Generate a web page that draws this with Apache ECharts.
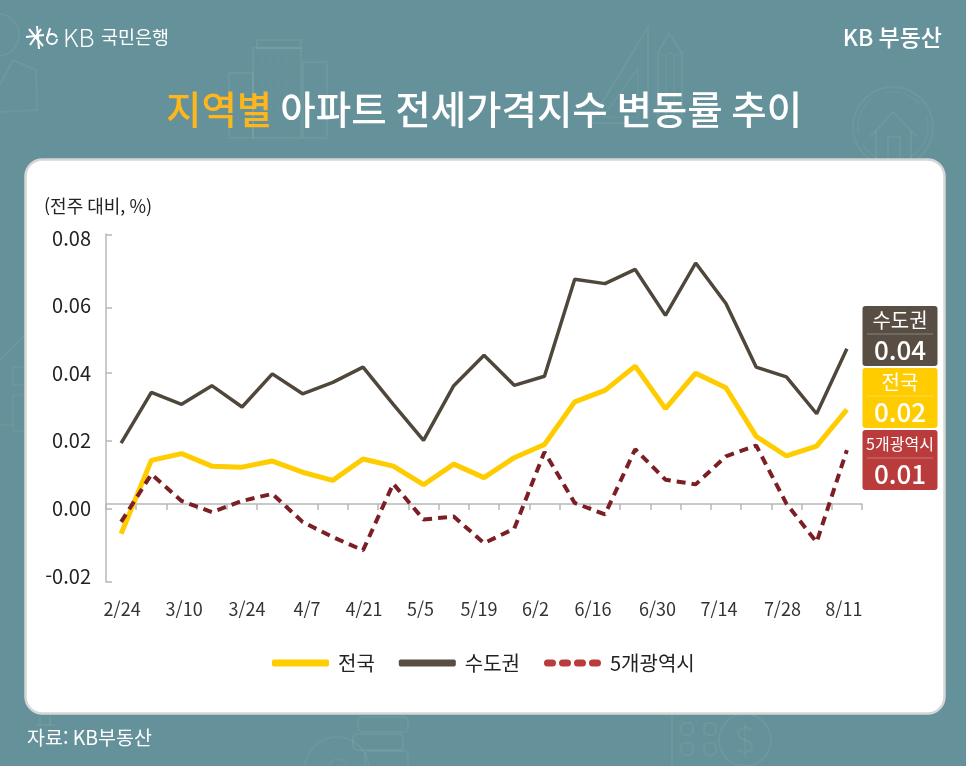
<!DOCTYPE html>
<html lang="ko">
<head>
<meta charset="utf-8">
<title>지역별 아파트 전세가격지수 변동률 추이</title>
<style>
  html, body { margin: 0; padding: 0; background: #64919a; }
  #chart { width: 966px; height: 766px; }
</style>
<script src="https://cdn.jsdelivr.net/npm/echarts@6/dist/echarts.min.js"></script>
</head>
<body>
<div id="chart"></div>
<script>
const FONT = '"Noto Sans CJK KR", "Noto Sans", sans-serif';

const weeks = ['2/24', '3/3', '3/10', '3/17', '3/24', '3/31', '4/7', '4/14', '4/21', '4/28', '5/5', '5/12', '5/19',
  '5/26', '6/2', '6/9', '6/16', '6/23', '6/30', '7/7', '7/14', '7/21', '7/28', '8/4', '8/11'];
const national = [-0.0075, 0.0142, 0.0162, 0.0125, 0.0122, 0.014, 0.0107, 0.0083, 0.0146, 0.0125, 0.007, 0.0131, 0.0091,
  0.015, 0.0189, 0.0315, 0.0349, 0.0421, 0.0295, 0.04, 0.0357, 0.0213, 0.0155, 0.0184, 0.0292];
const capital = [0.0193, 0.0343, 0.0308, 0.0363, 0.03, 0.0398, 0.0339, 0.0373, 0.0418, 0.0308, 0.0201, 0.0363, 0.0453,
  0.0364, 0.0391, 0.0678, 0.0665, 0.0707, 0.0571, 0.0726, 0.0606, 0.0418, 0.0389, 0.028, 0.0472];
const metro = [-0.004, 0.0101, 0.0022, -0.0011, 0.0022, 0.0043, -0.004, -0.0085, -0.0124, 0.0073, -0.0033, -0.0024, -0.0103,
  -0.006, 0.0167, 0.0016, -0.0018, 0.0175, 0.0085, 0.0071, 0.0154, 0.0186, 0.0014, -0.01, 0.0172];

const yLabels = [-0.02, 0, 0.02, 0.04, 0.06, 0.08];
const yTicks = [-0.0217, 0, 0.02, 0.04, 0.0595, 0.0811];

const endNames = ['수도권', '전국', '5개광역시'];
const endValues = ['0.04', '0.02', '0.01'];
const endColors = ['#594e43', '#ffcc00', '#b93b3b'];

// the date labels sit a little off their points in the original
const labelNudge = [1, 0, 2.5, 0, 5, 0, 4.5, 0, 1, 0, -3, 0, -5, 0, -9, 0, -12, 0, -8, 0, -7, 0, -4, 0, -3];

// four round dots, used as the legend mark of the dashed series
function dotsIcon() {
  let d = '';
  for (let i = 0; i < 4; i++) {
    const x = i * 15;
    d += `M${x + 3.5} 0H${x + 8.5}A3.5 3.5 0 0 1 ${x + 8.5} 7H${x + 3.5}A3.5 3.5 0 0 1 ${x + 3.5} 0Z`;
  }
  return 'path://' + d;
}

function weekLabelRich() {
  const rich = {};
  labelNudge.forEach((n, i) => {
    rich['w' + i] = {
      fontFamily: FONT, fontSize: 18, color: '#333',
      padding: n >= 0 ? [0, 0, 0, n * 2] : [0, -n * 2, 0, 0]
    };
  });
  return rich;
}

// faint icons behind the card
const FAINT = { fill: 'none', stroke: 'rgba(255,255,255,0.06)', lineWidth: 2 };
const FAINT_THIN = { fill: 'none', stroke: 'rgba(255,255,255,0.055)', lineWidth: 1.5 };

function rect(x, y, width, height, r, style) {
  return { type: 'rect', z: -10, shape: { x, y, width, height, r: r || 0 }, style: style || FAINT };
}
function poly(points, style) {
  return { type: 'polyline', z: -10, shape: { points }, style: style || FAINT };
}
function circle(cx, cy, r, style) {
  return { type: 'circle', z: -10, shape: { cx, cy, r }, style: style || FAINT };
}

function buildDecor() {
  const items = [
    // person, top left
    circle(-2, 35, 21),
    poly([[0, 85], [13, 60], [36, 70], [37, 110], [0, 112]]),
    // buildings
    rect(253, 48, 48, 90), rect(257, 40, 44, 8), rect(229, 73, 24, 65), rect(303, 62, 24, 76),
    // ruler and pencil
    poly([[590, 123], [648, 27], [648, 123], [590, 123]]),
    poly([[603, 117], [638, 68], [638, 117], [603, 117]], FAINT_THIN),
    poly([[658, 123], [658, 53], [669, 33], [682, 53], [682, 123]]),
    poly([[658, 53], [664, 56], [670, 53], [676, 56], [682, 53]], FAINT_THIN),
    poly([[666, 56], [666, 123]], FAINT_THIN), poly([[674, 56], [674, 123]], FAINT_THIN),
    // house in a circle
    circle(893, 127, 40),
    circle(893, 127, 35, { fill: 'none', stroke: 'rgba(255,255,255,0.05)', lineWidth: 1.5, lineDash: [40, 12] }),
    poly([[870, 137], [893, 112], [917, 137]]),
    poly([[876, 131], [876, 160]]), poly([[911, 131], [911, 160]]),
    rect(888, 137, 12, 24),
    // left edge house
    poly([[0, 360], [25, 335]]), rect(13, 367, 14, 18, 0, FAINT_THIN), rect(13, 395, 14, 36, 0, FAINT_THIN),
    poly([[0, 425], [13, 425]], FAINT_THIN),
    // bottom row: stand, coins, calculator and dollar
    poly([[35, 725], [55, 725]]), poly([[40, 725], [40, 716]]), poly([[50, 725], [50, 716]]),
    rect(358, 717, 50, 15, 4), rect(353, 734, 50, 16, 4), rect(365, 751, 43, 20, 4),
    circle(337, 769, 32), circle(338, 768, 9, FAINT_THIN),
    poly([[672, 712], [672, 766]]),
    rect(681, 723, 12, 12, 4), rect(704, 723, 12, 12, 4), rect(681, 743, 12, 12, 4), rect(704, 743, 12, 12, 4),
    circle(745, 740, 26),
    poly([[752, 730], [745, 727], [738, 731], [739, 737], [751, 743], [752, 749], [745, 753], [738, 750]]),
    poly([[745, 722], [745, 758]], FAINT_THIN)
  ];
  for (let x = 262; x <= 292; x += 8) {
    items.push(poly([[x, 58], [x, 130]], { fill: 'none', stroke: 'rgba(255,255,255,0.05)', lineWidth: 1.5, lineDash: [5, 7] }));
  }
  return items;
}

// KB star mark next to the bank name
function buildLogo() {
  const s = { fill: 'none', stroke: '#fff', lineWidth: 2 };
  const e = (pts) => ({ type: 'polyline', z: 6, shape: { points: pts }, style: s });
  return [
    e([[26, 37], [44, 35]]), e([[29, 29], [43, 46]]), e([[30, 45], [41, 29]]), e([[37, 26], [39, 49]]),
    { type: 'arc', z: 6, shape: { cx: 52, cy: 39, r: 5, startAngle: 0, endAngle: Math.PI * 1.9 }, style: s },
    e([[47, 39], [50, 28]])
  ];
}

// value boxes at the right end of the lines
function buildEndBoxes() {
  const items = [];
  endNames.forEach((name, i) => {
    const top = 306 + i * 62;
    items.push({ type: 'rect', z: 10, shape: { x: 862.5, y: top, width: 75, height: 60, r: 3 }, style: { fill: endColors[i] } });
    items.push({ type: 'line', z: 11, shape: { x1: 867, y1: top + 28, x2: 933, y2: top + 28 }, style: { stroke: 'rgba(255,255,255,0.3)', lineWidth: 1 } });
    items.push({
      type: 'text', z: 11, x: 900, y: top + 14,
      style: { text: name, fill: '#fff', font: `400 ${name.length > 3 ? 16 : 20}px ${FONT}`, align: 'center', verticalAlign: 'middle' }
    });
    items.push({
      type: 'text', z: 11, x: 900, y: top + 44,
      style: { text: endValues[i], fill: '#fff', font: `500 26px ${FONT}`, align: 'center', verticalAlign: 'middle' }
    });
  });
  return items;
}

function headerText(text, x, y, size, weight, align, fill) {
  return {
    type: 'text', z: 6, x, y,
    style: { text, fill: fill || '#fff', font: `${weight} ${size}px ${FONT}`, align: align || 'left', verticalAlign: 'middle' }
  };
}

const chart = echarts.init(document.getElementById('chart'), null, { renderer: 'canvas' });

chart.setOption({
  backgroundColor: '#64919a',
  animation: false,
  textStyle: { fontFamily: FONT },
  title: {
    left: 161, top: 85,
    text: '{a|지역별} {b|아파트 전세가격지수 변동률 추이}',
    textStyle: {
      rich: {
        a: { fontFamily: FONT, fontSize: 38.5, fontWeight: 500, color: '#fdb71c', padding: [0, 4, 0, 0] },
        b: { fontFamily: FONT, fontSize: 38.5, fontWeight: 500, color: '#ffffff' }
      }
    }
  },
  grid: { left: 106, top: 234, width: 756, height: 348, containLabel: false },
  legend: {
    left: 267, top: 648, itemWidth: 57, itemHeight: 7, itemGap: 24,
    textStyle: { fontFamily: FONT, fontSize: 20, color: '#222', padding: [0, 0, 0, 4] },
    data: [
      { name: '전국', icon: 'roundRect' },
      { name: '수도권', icon: 'roundRect' },
      { name: '5개광역시', icon: dotsIcon() }
    ]
  },
  xAxis: {
    type: 'category', data: weeks, boundaryGap: true, position: 'bottom', offset: -78,
    axisLine: { onZero: false, lineStyle: { color: '#b8b8b8', width: 1.5 } },
    axisTick: { show: true, interval: 0, length: 6, lineStyle: { color: '#b8b8b8', width: 1.5 } },
    axisLabel: {
      interval: 1, margin: 96, fontFamily: FONT, fontSize: 18, color: '#333',
      formatter: (v, i) => `{w${i}|${v}}`,
      rich: weekLabelRich()
    }
  },
  yAxis: {
    type: 'value', min: -0.02178, max: 0.08118,
    splitLine: { show: false },
    axisLine: { show: true, lineStyle: { color: '#b8b8b8', width: 1.5 } },
    axisTick: { show: true, inside: true, length: 6, customValues: yTicks, lineStyle: { color: '#b8b8b8', width: 1.5 } },
    axisLabel: {
      customValues: yLabels, margin: 15, fontFamily: FONT, fontSize: 20, color: '#222',
      formatter: (v) => v.toFixed(2)
    }
  },
  series: [
    {
      name: '전국', type: 'line', data: national, symbol: 'none', z: 3,
      lineStyle: { color: '#ffcc00', width: 5 }, itemStyle: { color: '#ffcc00' }
    },
    {
      name: '수도권', type: 'line', data: capital, symbol: 'none', z: 3,
      lineStyle: { color: '#4f473c', width: 3.5 }, itemStyle: { color: '#594e43' }
    },
    {
      name: '5개광역시', type: 'line', data: metro, symbol: 'none', z: 4,
      lineStyle: { color: '#7b1f25', width: 4, type: [9, 6] }, itemStyle: { color: '#b93b3b' }
    }
  ],
  graphic: {
    elements: [
      ...buildDecor(),
      {
        type: 'rect', z: -5, shape: { x: 25.5, y: 159.5, width: 919, height: 554, r: 17 },
        style: { fill: '#fff', stroke: '#d6d6d6', lineWidth: 2.5 }
      },
      ...buildLogo(),
      headerText('KB', 63, 37, 25, 300),
      headerText('국민은행', 101, 37, 18.5, 400),
      headerText('KB 부동산', 942, 37, 23, 500, 'right'),
      headerText('(전주 대비, %)', 44, 206, 18, 400, 'left', '#222'),
      headerText('자료: KB부동산', 27, 738, 19.5, 400),
      ...buildEndBoxes()
    ]
  }
});
</script>
</body>
</html>
